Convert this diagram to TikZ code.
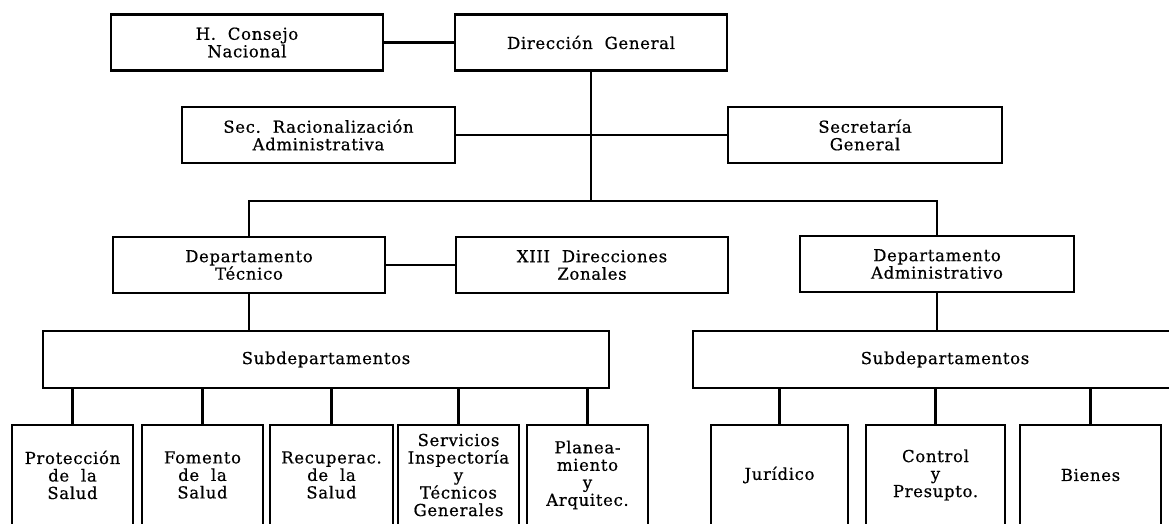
\documentclass[tikz,border=0pt]{standalone}
\usepackage{fontspec}
\setmainfont[LetterSpace=4, FakeBold=0.6]{DejaVu Serif}

\begin{document}
\begin{tikzpicture}[x=1pt, y=-1pt,
		box/.style={draw, line width=2.5pt, minimum height=56pt, inner sep=0pt, align=center, font=\fontsize{16.5}{17.5}\selectfont},
		leaf/.style={minimum height=100pt, inner sep=0pt, align=center, font=\fontsize{16.5}{17.5}\selectfont},
		edge/.style={line width=2.5pt}]
			%%%%% START %%%%%
			\useasboundingbox (0, 0) rectangle (1169, 524);
			
			\node[box, minimum width=272pt] (consejo) at (247, 42.5) {H.~~Consejo\\Nacional};
			\node[box, minimum width=272pt] (direccion) at (591, 42.5) {Dirección~~General};
			\draw[edge] (consejo) -- (direccion);
			
			\node[box, minimum width=273pt] (racional) at (318.5, 135) {Sec.~~Racionalización\\Administrativa};
			\node[box, minimum width=274pt] (secretaria) at (865, 135) {Secretaría\\General};
			\draw[edge] (racional) -- (secretaria);
			
			\node[box, minimum width=272pt] (tecnico) at (249, 265) {Departamento\\Técnico};
			\node[box, minimum width=272pt] (zonales) at (592, 265) {XIII~~Direcciones\\Zonales};
			\node[box, minimum width=274pt] (admin) at (937, 264) {Departamento\\Administrativo};
			\draw[edge] (tecnico) -- (zonales);
			
			\coordinate (bus) at (591, 201);
			\draw[edge] (direccion.south) -- (bus);
			\draw[edge] (tecnico.north) |- (bus) -| (admin.north);
			
			\node[box, minimum width=566pt, minimum height=57pt] (subtec) at (326, 359.5) {Subdepartamentos};
			\node[box, minimum width=504pt, minimum height=57pt] (subadm) at (945, 359.5) {Subdepartamentos};
			\draw[edge] (tecnico.south) -- (tecnico.south |- subtec.north);
			\draw[edge] (admin.south) -- (admin.south |- subadm.north);
			
			% tecnico
			\node[leaf, minimum width=121pt] (proteccion) at (72.5, 475) {Protección\\de~~la\\Salud};
			\node[leaf, minimum width=121pt] (fomento) at (202.5, 475) {Fomento\\de~~la\\Salud};
			\node[leaf, minimum width=123pt] (recuperac) at (331.5, 475) {Recuperac.\\de~~la\\Salud};
			\node[leaf, minimum width=121pt] (servicios) at (458.5, 475) {Servicios\\Inspectoría\\y\\Técnicos\\Generales};
			\node[leaf, minimum width=121pt] (planea) at (587.5, 475) {Planea-\\miento\\y\\Arquitec.};
			
			% administrativo
			\node[leaf, minimum width=137pt] (juridico) at (779.5, 475) {Jurídico};
			\node[leaf, minimum width=139pt] (control) at (935.5, 475) {Control\\y\\Presupto.};
			\node[leaf, minimum width=141pt] (bienes) at (1090.5, 475) {Bienes};
			
			\draw[edge] (proteccion.south west) |- (proteccion.north east) -- (proteccion.south east);
			\draw[edge] (fomento.south west) |- (fomento.north east) -- (fomento.south east);
			\draw[edge] (recuperac.south west) |- (recuperac.north east) -- (recuperac.south east);
			\draw[edge] (servicios.south west) |- (servicios.north east) -- (servicios.south east);
			\draw[edge] (planea.south west) |- (planea.north east) -- (planea.south east);
			\draw[edge] (juridico.south west) |- (juridico.north east) -- (juridico.south east);
			\draw[edge] (control.south west) |- (control.north east) -- (control.south east);
			\draw[edge] (bienes.south west) |- (bienes.north east) -- (bienes.south east);
			
			\draw[edge] (subtec.south -| proteccion.north) -- (proteccion.north);
			\draw[edge] (subtec.south -| fomento.north) -- (fomento.north);
			\draw[edge] (subtec.south -| recuperac.north) -- (recuperac.north);
			\draw[edge] (subtec.south -| servicios.north) -- (servicios.north);
			\draw[edge] (subtec.south -| planea.north) -- (planea.north);
			\draw[edge] (subadm.south -| juridico.north) -- (juridico.north);
			\draw[edge] (subadm.south -| control.north) -- (control.north);
			\draw[edge] (subadm.south -| bienes.north) -- (bienes.north);
			
			%%%%% END %%%%%
\end{tikzpicture}
\end{document}
